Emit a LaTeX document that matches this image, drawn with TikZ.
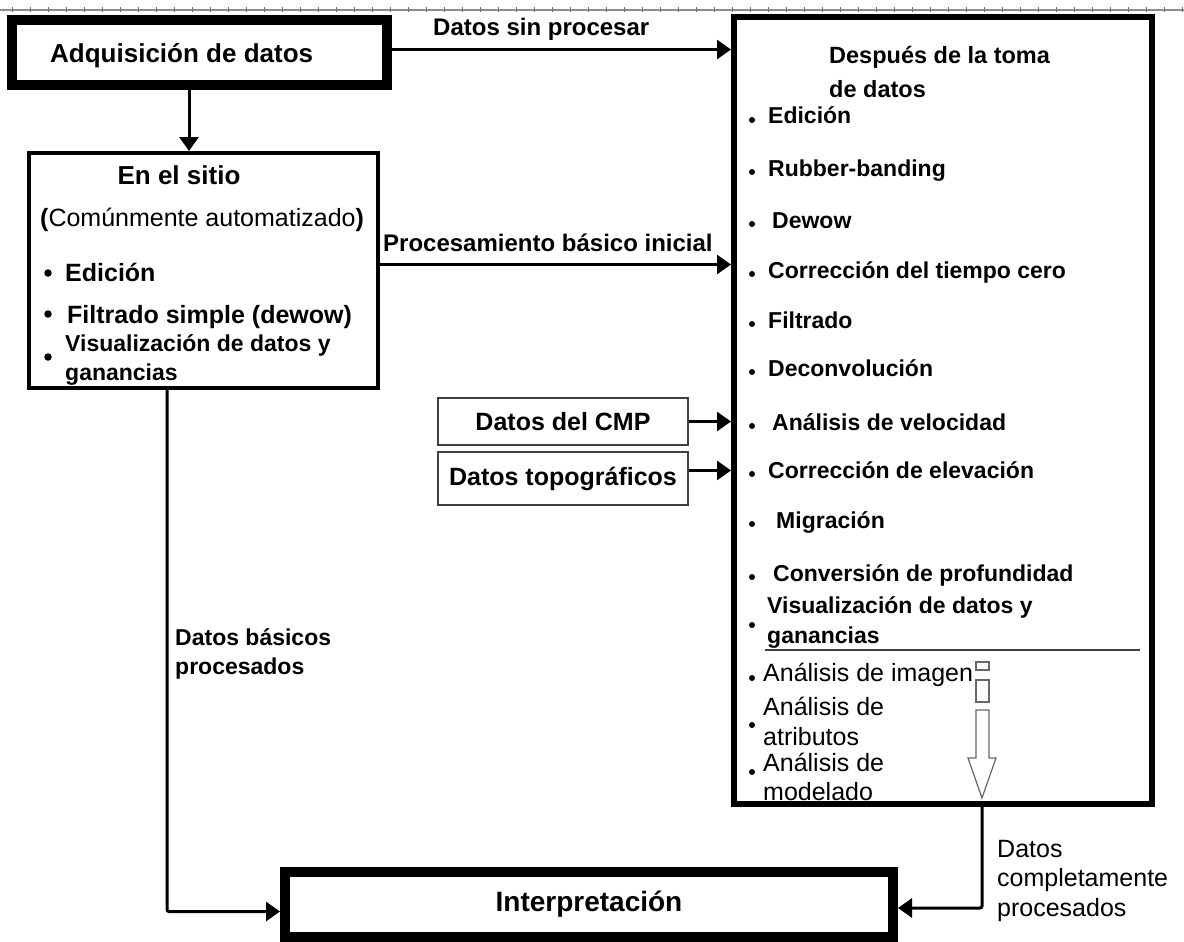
\documentclass[tikz,border=0pt]{standalone}
\usepackage{fontspec}
\setmainfont{Liberation Sans}
\usetikzlibrary{arrows.meta}
\newcommand\setfs[1]{\fontsize{#1}{#1}\selectfont}
\tikzset{
  thickbox/.style={draw=black, line width=10pt, fill=white, inner sep=0pt},
  medbox/.style={draw=black, line width=#1, inner sep=0pt},
  databox/.style={draw=black!75, line width=2pt, inner sep=0pt, minimum width=250pt, font=\setfs{25}\bfseries},
  conn/.style={line width=3pt, -{Triangle[length=14pt,width=19pt]}},
  btxt/.style={anchor=base west, inner sep=0pt, font=\setfs{23}\bfseries},
  ntxt/.style={anchor=base west, inner sep=0pt, font=\setfs{25}},
  dot/.style={fill=black, circle, inner sep=0pt, minimum size=6pt},
  hollow/.style={draw=black!60, line width=1.2pt, fill=white}
}
\begin{document}
\begin{tikzpicture}[x=1pt, y=-1pt]
\useasboundingbox[fill=white] (0,0) rectangle (1184,942);
% top ruler line
\draw[black!45, line width=1.2pt] (0,10) -- (1184,10);
\foreach \x in {12,30,...,1184} \draw[black!55, line width=1pt] (\x,7.5) -- (\x,12.5);

% boxes
\node[thickbox, minimum width=375pt, minimum height=65pt] (adq) at (199.5,52.5) {};
\node[medbox=4pt, minimum width=349pt, minimum height=235pt] (sitio) at (203.5,270.5) {};
\node[medbox=6pt, minimum width=418pt, minimum height=787pt] (desp) at (943,410.5) {};
\node[databox, minimum height=47pt] (cmp) at (563,421.5) {Datos del CMP};
\node[databox, minimum height=53pt] (topo) at (563,478.5) {Datos topogr\'aficos};
\node[thickbox, minimum width=608pt, minimum height=65pt, font=\setfs{28}\bfseries] (interp) at (589,904.5) {Interpretaci\'on};

% Adquisicion text
\node[anchor=base west, inner sep=0pt, font=\setfs{26}\bfseries] (adqt) at (50,63) {Adquisici\'on de datos};

% connectors
\coordinate (dx) at (189,0);
\coordinate (lx) at (167,0);
\coordinate (rx) at (982,0);
\draw[conn] (adq.south -| dx) -- (sitio.north -| dx);
\draw[conn] ([yshift=3pt]adq.east) -- ([yshift=3pt]adq.east -| desp.west);
\draw[conn] ([yshift=6pt]sitio.east) -- ([yshift=6pt]sitio.east -| desp.west);
\draw[conn] (cmp.east) -- (cmp.east -| desp.west);
\draw[conn] ([yshift=8pt]topo.east) -- ([yshift=8pt]topo.east -| desp.west);
\draw[conn, rounded corners=2pt] (sitio.south -| lx) |- ([yshift=-7pt]interp.west);
\draw[conn, rounded corners=2pt] (desp.south -| rx) |- ([yshift=-3.5pt]interp.east);

% connector labels
\node[btxt, font=\setfs{24}\bfseries] (l1) at (433,36) {Datos sin procesar};
\node[btxt, font=\setfs{24}\bfseries] (l2) at (383,251) {Procesamiento b\'asico inicial};
\node[btxt] (l3a) at (175,645) {Datos b\'asicos};
\node[btxt] (l3b) at (175,674) {procesados};
\node[ntxt] (l4a) at (997,857) {Datos};
\node[ntxt] (l4b) at (997,886) {completamente};
\node[ntxt] (l4c) at (997,916) {procesados};

% En el sitio contents
\node[anchor=base, inner sep=0pt, font=\setfs{26}\bfseries] (s0) at (179,184) {En el sitio};
\node[ntxt] (s1) at (40,226) {\textbf{(}Com\'unmente automatizado\textbf{)}};
\node[dot, minimum size=7.5pt] at (48,273) {};
\node[btxt, font=\setfs{25}\bfseries] (s2) at (65,281) {Edici\'on};
\node[dot, minimum size=7.5pt] at (48,314) {};
\node[btxt, font=\setfs{25}\bfseries] (s3) at (67,323) {Filtrado simple (dewow)};
\node[dot, minimum size=7.5pt] at (48,357) {};
\node[btxt] (s4) at (65,351) {Visualizaci\'on de datos y};
\node[btxt] (s5) at (65,380) {ganancias};

% Despues contents
\node[btxt, font=\setfs{23.5}\bfseries] (d0) at (829,64) {Despu\'es de la toma};
\node[btxt, font=\setfs{23.5}\bfseries] (d0b) at (829,97) {de datos};
\foreach \y/\xx/\t in {124/768/{Edici\'on}, 176/768/{Rubber-banding}, 228/772/{Dewow},
    278/768/{Correcci\'on del tiempo cero}, 328/768/{Filtrado}, 376/768/{Deconvoluci\'on},
    430/772/{An\'alisis de velocidad}, 478/768/{Correcci\'on de elevaci\'on},
    528/776/{Migraci\'on}, 581/773/{Conversi\'on de profundidad}}{
  \node[dot, minimum size=6pt] at (752,\y-4) {};
  \node[btxt] at (\xx,\y) {\t};
}
\node[btxt] (d11) at (767,613) {Visualizaci\'on de datos y};
\node[btxt] (d12) at (767,643) {ganancias};
\node[dot, minimum size=6pt] at (752,625) {};
\draw[black!75, line width=1.5pt] (765,650) -- (1140,650);
\node[ntxt] (e1) at (763,681) {An\'alisis de imagen};
\node[dot, minimum size=6pt] at (752,678) {};
\node[ntxt] (e2) at (763,715) {An\'alisis de};
\node[ntxt] (e3) at (763,745) {atributos};
\node[dot, minimum size=6pt] at (752,725) {};
\node[ntxt] (e4) at (763,771) {An\'alisis de};
\node[ntxt] (e5) at (763,800) {modelado};
\node[dot, minimum size=6pt] at (752,772) {};

% hollow arrow
\draw[hollow] (976,662) rectangle (989,670);
\draw[hollow] (976,680) rectangle (989,702);
\draw[hollow] (976,710) -- (989,710) -- (989,758) -- (996,758) -- (982,798) -- (968,758) -- (976,758) -- cycle;
\end{tikzpicture}
\end{document}
